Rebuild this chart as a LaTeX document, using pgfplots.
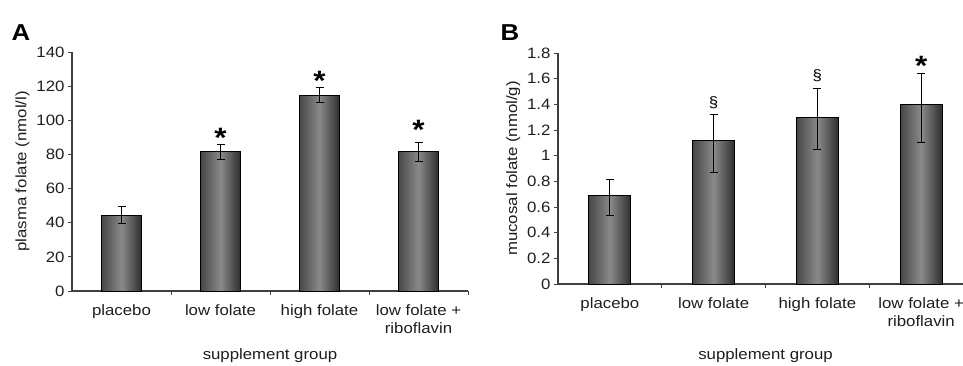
\documentclass[border=0pt]{standalone}
\usepackage{pgfplots}
\pgfplotsset{compat=1.18}
\usepackage{fontspec}
\setmainfont[FakeStretch=1.12]{Liberation Sans}
\definecolor{txt}{HTML}{1E1E1E}
\begin{document}
\begin{tikzpicture}
\useasboundingbox (0pt,0pt) rectangle (963pt,365pt);
\clip (0pt,0pt) rectangle (963pt,365pt);
\pgfplotsset{
  every axis/.append style={
    scale only axis,
    axis lines*=left, axis line style={line width=1.1pt, color=black!75},
    xmin=-0.5, xmax=3.5, xtick={0,1,2,3},
    xticklabels={placebo, low folate, high folate, {low folate +\\riboflavin}},
    major x tick style={draw=none},
    minor xtick={0.5,1.5,2.5,3.5},
    minor x tick style={line width=1pt, color=black!75},
    minor tick length=4pt,
    major tick length=4pt,
    y tick style={line width=1pt, color=black!75},
    tick align=outside,
    ymin=0,
    /pgf/number format/assume math mode=true,
    tick label style={font=\fontsize{15}{18}\selectfont, text=txt},
    xticklabel style={align=center, anchor=north, yshift=-6pt},
    label style={font=\fontsize{15}{18}\selectfont, text=txt},
    clip=false,
  },
  mybars/.style={ybar, bar shift=0pt, draw=black, line width=1pt,
    left color=black!72, right color=black!82, middle color=black!46,
    /pgfplots/error bars/y dir=both, /pgfplots/error bars/y explicit,
    /pgfplots/error bars/error bar style={line width=1pt, black},
    /pgfplots/error bars/error mark options={rotate=90, mark size=4pt, line width=1pt, black}},
  notes/.style={draw=none, mark=none, nodes near coords, point meta=explicit symbolic,
    every node near coord/.append style={anchor=center, text=black, inner sep=0pt}},
}
% Panel A
\begin{axis}[at={(72pt,74pt)}, anchor=south west, width=396pt, height=239pt,
  ymax=140, ytick={0,20,...,140},
  ylabel={plasma folate (nmol/l)},
  every axis x label/.style={at={(axis description cs:0.5,0)}, anchor=center, yshift=-65pt,
    font=\fontsize{15}{18}\selectfont, text=txt},
  xlabel={supplement group}]
\addplot[mybars, bar width=40pt] coordinates {(0,44.5) +- (0,5)};
\addplot[mybars, bar width=40pt] coordinates {(1,81.5) +- (0,4.5)};
\addplot[mybars, bar width=40pt] coordinates {(2,114.8) +- (0,4.5)};
\addplot[mybars, bar width=40pt] coordinates {(3,81.5) +- (0,5.5)};
\addplot[notes, every node near coord/.append style={font=\fontsize{28}{28}\selectfont\bfseries}]
  coordinates {(1,89.5) [*] (2,123) [*] (3,94.3) [*]};
\end{axis}
% Panel B
\begin{axis}[at={(558pt,81pt)}, anchor=south west, width=415pt, height=231pt,
  ymax=1.8, ytick={0,0.2,...,1.8},
  yticklabels={0,0.2,0.4,0.6,0.8,1,1.2,1.4,1.6,1.8},
  ylabel={mucosal folate (nmol/g)},
  every axis x label/.style={at={(axis description cs:0.5,0)}, anchor=center, yshift=-72pt,
    font=\fontsize{15}{18}\selectfont, text=txt},
  xlabel={supplement group}]
\addplot[mybars, bar width=42pt] coordinates {(0,0.69) += (0,0.125) -= (0,0.16)};
\addplot[mybars, bar width=42pt] coordinates {(1,1.117) += (0,0.2) -= (0,0.247)};
\addplot[mybars, bar width=42pt] coordinates {(2,1.296) += (0,0.229) -= (0,0.246)};
\addplot[mybars, bar width=42pt] coordinates {(3,1.40) += (0,0.24) -= (0,0.296)};
\addplot[notes, every node near coord/.append style={font=\fontsize{15}{15}\selectfont}]
  coordinates {(1,1.413) [\S] (2,1.62) [\S]};
\addplot[notes, every node near coord/.append style={font=\fontsize{28}{28}\selectfont\bfseries}]
  coordinates {(3,1.70) [*]};
\end{axis}
\node[font=\fontsize{23}{23}\selectfont\bfseries, text=black] at (21pt,332pt) {A};
\node[font=\fontsize{23}{23}\selectfont\bfseries, text=black] at (510pt,332pt) {B};
\end{tikzpicture}
\end{document}
